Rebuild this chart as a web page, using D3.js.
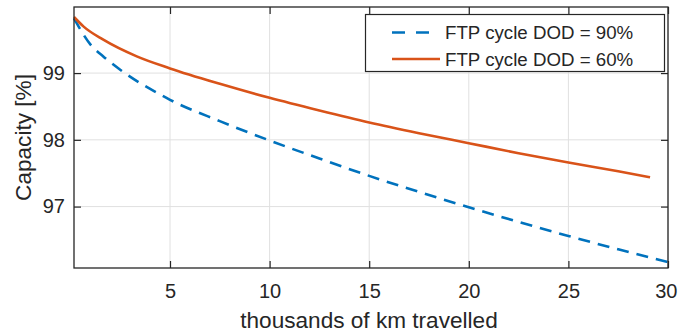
<!DOCTYPE html>
<html>
<head>
<meta charset="utf-8">
<script src="https://cdn.jsdelivr.net/npm/d3@7"></script>
<style>
  html, body { margin: 0; padding: 0; background: #fff; }
  svg { display: block; font-family: "Liberation Sans", Arial, sans-serif; }
</style>
</head>
<body>
<svg id="chart" width="678" height="334"></svg>
<script>
// ---- data ----
const kmDOD90 = [0.18, 1, 1.65, 2.5, 3.5, 4.5, 5, 7.5, 10, 12.5, 15, 17.5, 20, 22.5, 25, 27.5, 30];
const capDOD90 = [99.82, 99.43, 99.25, 99.05, 98.85, 98.68, 98.60, 98.28, 97.99, 97.72, 97.46, 97.22, 96.99, 96.77, 96.56, 96.36, 96.17];
const kmDOD60 = [0.18, 0.65, 1.65, 3.33, 5, 7.5, 10, 12.5, 15, 17.5, 20, 22.5, 25, 27.5, 29.1];
const capDOD60 = [99.84, 99.70, 99.50, 99.25, 99.07, 98.84, 98.63, 98.44, 98.26, 98.10, 97.95, 97.80, 97.66, 97.53, 97.44];
const xTicks = [5, 10, 15, 20, 25, 30];
const yTicks = [97, 98, 99];
const seriesNames = ["FTP cycle DOD = 90%", "FTP cycle DOD = 60%"];

// ---- layout ----
const svg = d3.select("#chart");
const L = 74, R = 668, T = 7, B = 268;
const textColor = "#262626";
const blue = "#0072BD", orange = "#D95319";

const x = d3.scaleLinear().domain([0.18, 30]).range([L, R]);
const y = d3.scaleLinear().domain([96.08, 99.99]).range([B, T]);

// grid
const grid = svg.append("g");
grid.selectAll("line.gx").data(xTicks).join("line")
  .attr("x1", d => x(d)).attr("x2", d => x(d)).attr("y1", T).attr("y2", B)
  .attr("stroke", "#e0e0e0").attr("stroke-width", 1);
grid.selectAll("line.gy").data(yTicks).join("line")
  .attr("y1", d => y(d)).attr("y2", d => y(d)).attr("x1", L).attr("x2", R)
  .attr("stroke", "#e0e0e0").attr("stroke-width", 1);

// lines
const line = d3.line().curve(d3.curveMonotoneX).x(d => x(d[0])).y(d => y(d[1]));
const d90 = kmDOD90.map((k, i) => [k, capDOD90[i]]);
const d60 = kmDOD60.map((k, i) => [k, capDOD60[i]]);
const plot = svg.append("g");
plot.append("path").datum(d90).attr("d", line)
  .attr("fill", "none").attr("stroke", blue).attr("stroke-width", 2.6)
  .attr("stroke-dasharray", "12,8");
plot.append("path").datum(d60).attr("d", line)
  .attr("fill", "none").attr("stroke", orange).attr("stroke-width", 2.6);

// axes (MATLAB style: inward ticks, box)
const tickLen = 7;
const axisG = svg.append("g");
const xb = d3.axisBottom(x).tickValues(xTicks).tickSizeInner(-tickLen).tickSizeOuter(0).tickPadding(16).tickFormat(d3.format("d"));
const gx = axisG.append("g").attr("transform", `translate(0,${B})`).call(xb);
const xt = d3.axisTop(x).tickValues(xTicks).tickSizeInner(-tickLen).tickSizeOuter(0).tickFormat("");
const gxt = axisG.append("g").attr("transform", `translate(0,${T})`).call(xt);
const yl = d3.axisLeft(y).tickValues(yTicks).tickSizeInner(-tickLen).tickSizeOuter(0).tickPadding(9).tickFormat(d3.format("d"));
const gy = axisG.append("g").attr("transform", `translate(${L},0)`).call(yl);
const yr = d3.axisRight(y).tickValues(yTicks).tickSizeInner(-tickLen).tickSizeOuter(0).tickFormat("");
const gyr = axisG.append("g").attr("transform", `translate(${R},0)`).call(yr);

[gx, gxt, gy, gyr].forEach(g => {
  g.select(".domain").remove();
  g.selectAll(".tick line").attr("stroke", textColor).attr("stroke-width", 1.2);
  g.selectAll(".tick text").attr("fill", textColor).style("font-size", "20px");
});
gx.selectAll(".tick text").attr("dy", "0.71em");
// keep the last label inside the window
gx.selectAll(".tick text").filter(d => d === 30).attr("text-anchor", "end").attr("x", 9);

axisG.append("rect").attr("x", L).attr("y", T).attr("width", R - L).attr("height", B - T)
  .attr("fill", "none").attr("stroke", textColor).attr("stroke-width", 1.3);

// axis titles
svg.append("text").attr("x", (L + R) / 2 - 2).attr("y", 328)
  .attr("text-anchor", "middle").attr("fill", textColor).style("font-size", "22.6px")
  .text("thousands of km travelled");
svg.append("text").attr("transform", `translate(31,${(T + B) / 2}) rotate(-90)`)
  .attr("text-anchor", "middle").attr("fill", textColor).style("font-size", "22.6px")
  .text("Capacity [%]");

// legend
const lg = svg.append("g");
lg.append("rect").attr("x", 365.5).attr("y", 14.5).attr("width", 299).attr("height", 57)
  .attr("fill", "#fff").attr("stroke", textColor).attr("stroke-width", 1.2);
const rows = [
  { name: seriesNames[0], color: blue, dash: "13,11", cy: 32.5 },
  { name: seriesNames[1], color: orange, dash: null, cy: 59 }
];
rows.forEach(r => {
  lg.append("line").attr("x1", 392).attr("x2", 440).attr("y1", r.cy).attr("y2", r.cy)
    .attr("stroke", r.color).attr("stroke-width", 2.6)
    .attr("stroke-dasharray", r.dash);
  lg.append("text").attr("x", 445).attr("y", r.cy).attr("dy", "0.36em")
    .attr("fill", textColor).style("font-size", "18.7px").text(r.name);
});
</script>
</body>
</html>
